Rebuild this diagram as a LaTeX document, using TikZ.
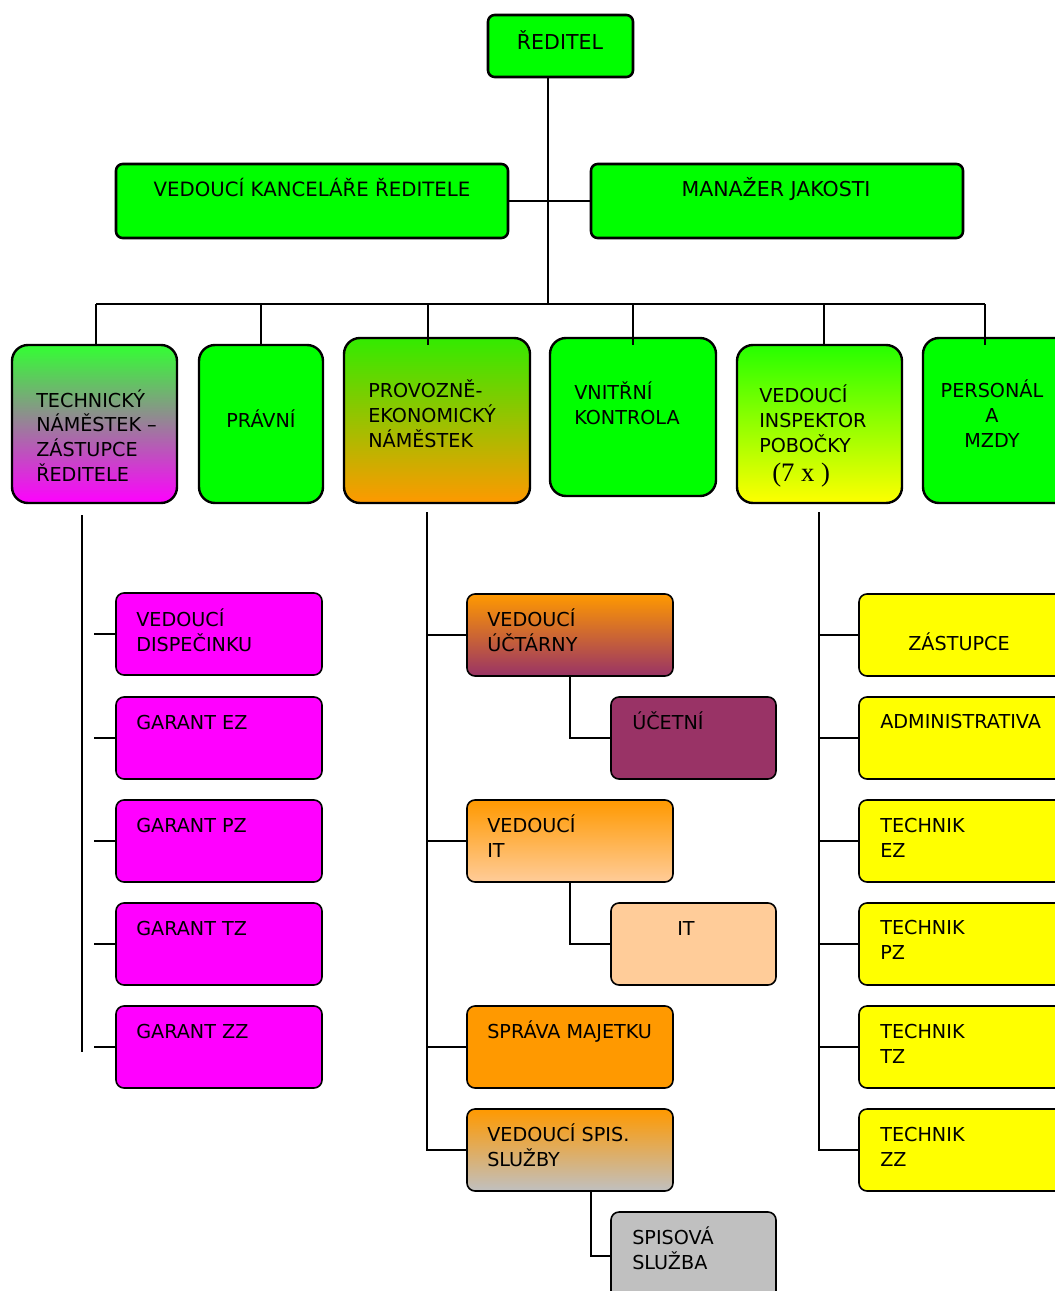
\documentclass[tikz,border=0pt]{standalone}
\usepackage{fontspec}
\setmainfont{DejaVu Sans}
\newfontfamily\serifnum{Liberation Serif}
\usetikzlibrary{fit}

\definecolor{zelena}{RGB}{0,255,0}
\definecolor{fialova}{RGB}{255,0,255}
\definecolor{purpur}{RGB}{153,51,102}
\definecolor{oranzova}{RGB}{255,153,0}
\definecolor{svetla}{RGB}{255,204,153}
\definecolor{seda}{RGB}{192,192,192}
\definecolor{zluta}{RGB}{255,255,0}

\tikzset{
  boxtop/.style={draw, line width=1.9pt, rounded corners=5pt, inner sep=0pt},
  boxmid/.style={draw, line width=1.8pt, rounded corners=12pt, inner sep=0pt},
  boxlow/.style={draw, line width=1.2pt, rounded corners=6pt, inner sep=0pt},
  lbl/.style={anchor=base west, inner sep=0pt, align=left, font=\fontsize{14.4}{18.4}\selectfont},
  lblc/.style={anchor=base, inner sep=0pt, align=center, font=\fontsize{14.4}{18.4}\selectfont},
  conn/.style={line width=1.1pt}
}

\begin{document}
\begin{tikzpicture}[x=0.75pt,y=0.75pt,yscale=-1,xscale=1]
        \useasboundingbox (0,0) rectangle (1054,1291);

        %Shape: top row
        \node[boxtop, fill=zelena, fit={(488,15) (633,77)}] (red) {};
        \node[boxtop, fill=zelena, fit={(116,164) (508,238)}] (kanc) {};
        \node[boxtop, fill=zelena, fit={(591,164) (963,238)}] (jak) {};

        %Shape: second row
        \node[boxmid, top color=zelena!80!white, bottom color=fialova, fit={(12,345) (177,503)}] (tech) {};
        \node[boxmid, fill=zelena, fit={(199,345) (323,503)}] (prav) {};
        \node[boxmid, top color=zelena!80!oranzova, bottom color=oranzova, fit={(344,338) (530,503)}] (prov) {};
        \node[boxmid, fill=zelena, fit={(550,338) (716,496)}] (vnit) {};
        \node[boxmid, top color=zelena!85!zluta, bottom color=zluta, fit={(737,345) (902,503)}] (insp) {};
        \node[boxmid, fill=zelena, fit={(923,338) (1075,503)}] (pers) {};

        %Shape: technicky namestek
        \foreach \n/\y in {disp/593, gez/697, gpz/800, gtz/903, gzz/1006}
          \node[boxlow, fill=fialova, fit={(116,\y) (322,\y+82)}] (\n) {};

        %Shape: provozne-ekonomicky namestek
        \node[boxlow, top color=oranzova, bottom color=purpur, fit={(467,594) (673,676)}] (vuct) {};
        \node[boxlow, fill=purpur, fit={(611,697) (776,779)}] (ucet) {};
        \node[boxlow, top color=oranzova, bottom color=svetla, fit={(467,800) (673,882)}] (vit) {};
        \node[boxlow, fill=svetla, fit={(611,903) (776,985)}] (itb) {};
        \node[boxlow, fill=oranzova, fit={(467,1006) (673,1088)}] (sprav) {};
        \node[boxlow, top color=oranzova, bottom color=seda, fit={(467,1109) (673,1191)}] (vspis) {};
        \node[boxlow, fill=seda, fit={(611,1212) (776,1300)}] (spis) {};

        %Shape: inspektor pobocky
        \foreach \n/\y in {zast/594, admin/697, tez/800, tpz/903, ttz/1006, tzz/1109}
          \node[boxlow, fill=zluta, fit={(859,\y) (1075,\y+82)}] (\n) {};

        %Straight Lines: top
        \coordinate (trunk) at (548,304);
        \draw[conn] (red.south -| trunk) -- (trunk);
        \draw[conn] (kanc.east) -- (jak.west);
        \draw[conn] (96,304) -- (985,304);
        \foreach \n/\x in {tech/96, prav/261, prov/428, vnit/633, insp/824, pers/985}
          \draw[conn] (\x,304) -- (\x,345);

        %Straight Lines: technicky namestek
        \coordinate (techA) at (82,515);
        \coordinate (techB) at (82,1052);
        \draw[conn] (techA) -- (techB);
        \foreach \n in {disp, gez, gpz, gtz, gzz}
          \draw[conn] (\n.west) -- ++(-21,0);

        %Straight Lines: provozne-ekonomicky namestek
        \coordinate (provA) at (427,512);
        \draw[conn] (provA) |- (vspis.west);
        \foreach \n in {vuct, vit, sprav}
          \draw[conn] (\n.west) -- (\n.west -| provA);
        \draw[conn] (vuct.south) |- (ucet.west);
        \draw[conn] (vit.south) |- (itb.west);
        \draw[conn] (vspis.south -| 591,0) |- (spis.west);

        %Straight Lines: inspektor pobocky
        \coordinate (inspA) at (819,512);
        \draw[conn] (inspA) |- (tzz.west);
        \foreach \n in {zast, admin, tez, tpz, ttz}
          \draw[conn] (\n.west) -- (\n.west -| inspA);

        % Text Node (multi-line nodes sit on their last baseline)
        \node[lblc, font=\fontsize{15.4}{18.4}\selectfont] (t-red) at (560,50) {ŘEDITEL};
        \node[lblc, font=\fontsize{14.8}{18.4}\selectfont] (t-kanc) at (312,197) {VEDOUCÍ KANCELÁŘE ŘEDITELE};
        \node[lblc, font=\fontsize{15.4}{18.4}\selectfont] (t-jak) at (776,197) {MANAŽER JAKOSTI};
        % Text Node
        \node[lbl] (t-tech) at (36,481) {TECHNICKÝ\\NÁMĚSTEK –\\ZÁSTUPCE\\ŘEDITELE};
        \node[lblc] (t-prav) at (261,427) {PRÁVNÍ};
        \node[lbl] (t-prov) at (368,447) {PROVOZNĚ-\\EKONOMICKÝ\\NÁMĚSTEK};
        \node[lbl] (t-vnit) at (574,424) {VNITŘNÍ\\KONTROLA};
        \node[lbl] (t-insp) at (759,452) {VEDOUCÍ\\INSPEKTOR\\POBOČKY};
        \node[anchor=base west, inner sep=0pt, font=\serifnum\fontsize{20}{22}\selectfont] (t-krat) at (772,481) {(7 x )};
        \node[lblc] (t-pers) at (992,447) {PERSONÁL\\A\\MZDY};
        % Text Node
        \node[lbl] (t-disp) at (136,651) {VEDOUCÍ\\DISPEČINKU};
        \node[lbl] (t-gez) at (136,729) {GARANT EZ};
        \node[lbl] (t-gpz) at (136,832) {GARANT PZ};
        \node[lbl] (t-gtz) at (136,935) {GARANT TZ};
        \node[lbl] (t-gzz) at (136,1038) {GARANT ZZ};
        % Text Node
        \node[lbl] (t-vuct) at (487,651) {VEDOUCÍ\\ÚČTÁRNY};
        \node[lbl] (t-ucet) at (632,729) {ÚČETNÍ};
        \node[lbl] (t-vit) at (487,857) {VEDOUCÍ\\IT};
        \node[lblc] (t-itb) at (686,935) {IT};
        \node[lbl] (t-sprav) at (487,1038) {SPRÁVA MAJETKU};
        \node[lbl] (t-vspis) at (487,1166) {VEDOUCÍ SPIS.\\SLUŽBY};
        \node[lbl] (t-spis) at (632,1269) {SPISOVÁ\\SLUŽBA};
        % Text Node
        \node[lblc] (t-zast) at (959,650) {ZÁSTUPCE};
        \node[lbl] (t-admin) at (880,728) {ADMINISTRATIVA};
        \node[lbl] (t-tez) at (880,857) {TECHNIK\\EZ};
        \node[lbl] (t-tpz) at (880,959) {TECHNIK\\PZ};
        \node[lbl] (t-ttz) at (880,1063) {TECHNIK\\TZ};
        \node[lbl] (t-tzz) at (880,1166) {TECHNIK\\ZZ};

    \end{tikzpicture}
\end{document}
